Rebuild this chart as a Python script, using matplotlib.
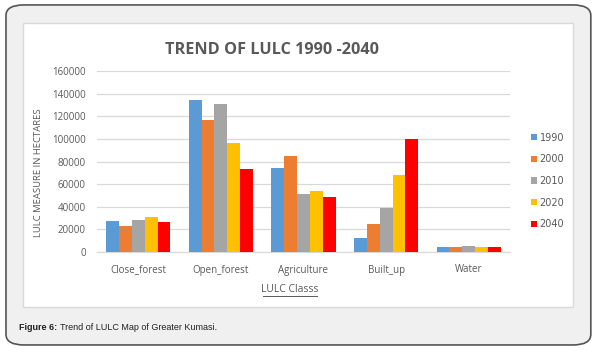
import numpy as np
import matplotlib.pyplot as plt
from matplotlib.patches import FancyBboxPatch, Rectangle, Patch
from matplotlib.lines import Line2D

classes = ['Close_forest', 'Open_forest', 'Agriculture', 'Built_up', 'Water']
years = ['1990', '2000', '2010', '2020', '2040']
v1990 = [27800, 134500, 74500, 12500, 4500]
v2000 = [23200, 117000, 85000, 25000, 4500]
v2010 = [28500, 130500, 51500, 38500, 5200]
v2020 = [31200, 96500, 53500, 68500, 4500]
v2040 = [26800, 73800, 48800, 100000, 4500]
colors = ['#5B9BD5', '#ED7D31', '#A5A5A5', '#FFC000', '#FF0000']

series = [v1990, v2000, v2010, v2020, v2040]

fig = plt.figure(figsize=(5.98, 3.52), dpi=100)

# outer frame and white chart panel (drawn below the axes)
fig.patches.append(FancyBboxPatch((0.01, 0.02), 0.978, 0.966, boxstyle='round,pad=0,rounding_size=0.03',
                                  transform=fig.transFigure, facecolor='#f0f0f0', edgecolor='#555555',
                                  linewidth=1.2, zorder=-2))
fig.patches.append(Rectangle((23 / 598, 1 - 307 / 352), 550 / 598, 284 / 352, transform=fig.transFigure,
                             facecolor='white', edgecolor='#d9d9d9', linewidth=1, zorder=-1))

ax = fig.add_axes([97 / 598, 1 - 252 / 352, 413 / 598, 181 / 352])
ax.set_facecolor('none')

x = np.arange(len(classes))
w = 0.155
for i, vals in enumerate(series):
    ax.bar(x + (i - 2) * w, vals, w, color=colors[i], zorder=3)

ax.set_xlim(-0.5, len(classes) - 0.5)
ax.set_ylim(0, 160000)
ax.set_yticks(np.arange(0, 160001, 20000))
ax.set_xticks(x)
ax.set_xticklabels(classes)
ax.grid(axis='y', color='#d9d9d9', linewidth=0.9, zorder=0)
for s in ['top', 'right', 'left']:
    ax.spines[s].set_visible(False)
ax.spines['bottom'].set_color('#d9d9d9')
ax.tick_params(axis='both', length=0, labelsize=7, labelcolor='#595959', pad=8)
ax.tick_params(axis='x', pad=9)
for t in ax.get_xticklabels() + ax.get_yticklabels():
    t.set_family('Open Sans')

ax.set_ylabel('LULC MEASURE IN HECTARES', fontsize=6.8, color='#595959', family='Open Sans')
ax.yaxis.set_label_coords(-0.13, 0.44)
fig.text(290 / 598, 1 - 290 / 352, 'LULC Classs', ha='center', va='center', fontsize=7.5,
         color='#595959', family='Open Sans')
fig.add_artist(Line2D([263 / 598, 317 / 598], [1 - 296 / 352, 1 - 296 / 352], color='#595959', linewidth=0.7))

fig.text(272 / 598, 1 - 50 / 352, 'TREND OF LULC 1990 -2040', ha='center', va='center', fontsize=11.7,
         fontweight='bold', color='#595959', family='Open Sans')

handles = [Patch(facecolor=c, edgecolor='none') for c in colors]
fig.legend(handles, years, loc='center left', bbox_to_anchor=(522 / 598, 1 - 181 / 352), frameon=False,
           fontsize=7, handlelength=0.6, handleheight=0.6, handletextpad=0.3, labelspacing=1.2,
           labelcolor='#595959')

cap = fig.text(19 / 598, 1 - 327 / 352, 'Figure 6:', ha='left', va='center', fontsize=6.5, fontweight='bold',
               color='#222222', family='Liberation Sans')
fig.add_artist(plt.Annotation('Trend of LULC Map of Greater Kumasi.', xy=(1, 0.5), xycoords=cap,
                              xytext=(2, 0), textcoords='offset points', ha='left', va='center',
                              fontsize=6.5, color='#222222', family='Liberation Sans'))

fig.savefig('out.png', dpi=100)
